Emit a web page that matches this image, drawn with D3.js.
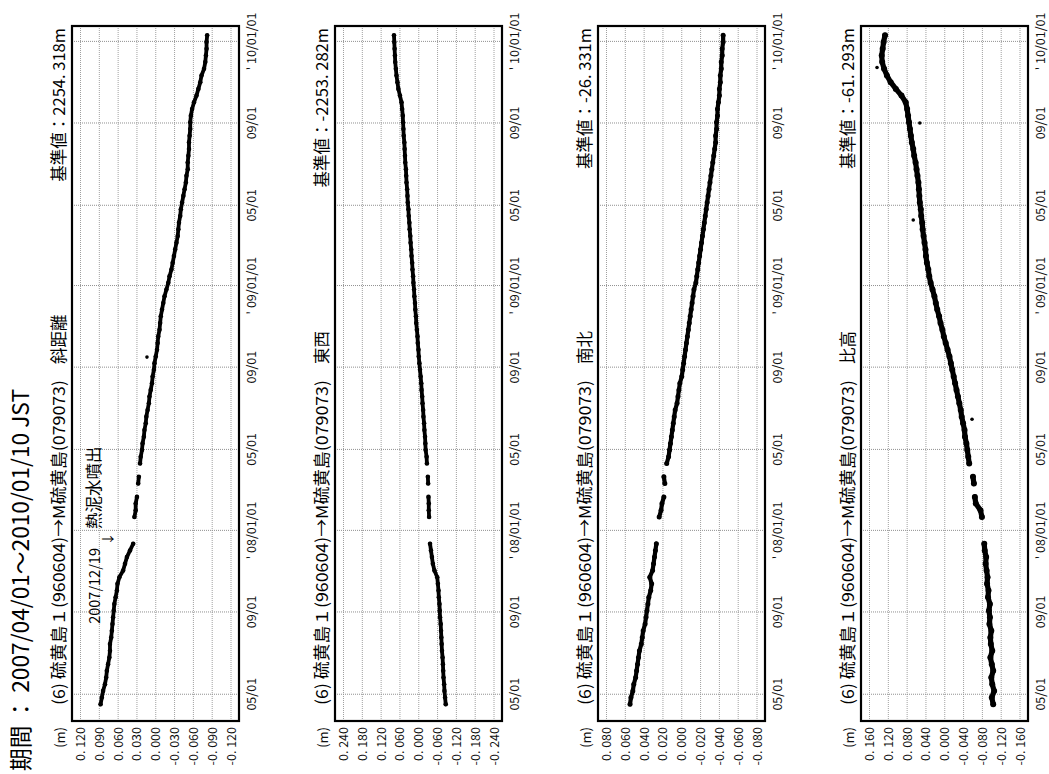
<!DOCTYPE html>
<html><head><meta charset="utf-8">
<script src="https://cdn.jsdelivr.net/npm/d3@7"></script>
<style>body{margin:0;background:#fff}svg{display:block}</style>
</head><body>
<script>
// ---- data ----
const dates = ["2007-04-16","2007-04-26","2007-05-06","2007-05-16","2007-05-26","2007-06-05","2007-06-15","2007-06-25","2007-07-05","2007-07-15",
"2007-07-25","2007-08-04","2007-08-14","2007-08-24","2007-09-03","2007-09-13","2007-09-23","2007-10-03","2007-10-13","2007-10-23",
"2007-11-02","2007-11-12","2007-11-22","2007-12-02","2007-12-12","2007-12-22","2008-01-01","2008-01-11","2008-01-21","2008-01-31",
"2008-02-10","2008-02-20","2008-03-01","2008-03-11","2008-03-21","2008-03-31","2008-04-10","2008-04-20","2008-04-30","2008-05-10",
"2008-05-20","2008-05-30","2008-06-09","2008-06-19","2008-06-29","2008-07-09","2008-07-19","2008-07-29","2008-08-08","2008-08-18",
"2008-08-28","2008-09-07","2008-09-17","2008-09-27","2008-10-07","2008-10-17","2008-10-27","2008-11-06","2008-11-16","2008-11-26",
"2008-12-06","2008-12-16","2008-12-26","2009-01-05","2009-01-15","2009-01-25","2009-02-04","2009-02-14","2009-02-24","2009-03-06",
"2009-03-16","2009-03-26","2009-04-05","2009-04-15","2009-04-25","2009-05-05","2009-05-15","2009-05-25","2009-06-04","2009-06-14",
"2009-06-24","2009-07-04","2009-07-14","2009-07-24","2009-08-03","2009-08-13","2009-08-23","2009-09-02","2009-09-12","2009-09-22",
"2009-10-02","2009-10-12","2009-10-22","2009-11-01","2009-11-11","2009-11-21","2009-12-01","2009-12-11","2009-12-21","2009-12-31",
"2010-01-10"];
const slopeDistance = [0.088,0.086,0.084,0.081,0.079,0.078,0.076,0.074,0.073,0.073,
0.071,0.070,0.069,0.068,0.067,0.066,0.064,0.062,0.061,0.058,
0.052,0.049,0.046,0.041,0.036,null,null,null,0.034,0.032,
0.032,0.030,null,0.028,0.027,null,0.025,0.024,0.022,0.021,
0.019,0.018,0.016,0.015,0.013,0.011,0.010,0.008,0.006,0.005,
0.003,0.002,0.000,-0.002,-0.003,-0.004,-0.006,-0.007,-0.008,-0.010,
-0.012,-0.014,-0.017,-0.020,-0.022,-0.025,-0.027,-0.029,-0.031,-0.033,
-0.035,-0.036,-0.037,-0.039,-0.040,-0.042,-0.044,-0.046,-0.048,-0.049,
-0.051,-0.051,-0.052,-0.053,-0.053,-0.054,-0.055,-0.055,-0.056,-0.058,
-0.061,-0.065,-0.068,-0.071,-0.073,-0.077,-0.079,-0.080,-0.081,-0.081,
-0.082];
const eastWest = [-0.086,-0.084,-0.082,-0.081,-0.079,-0.078,-0.077,-0.076,-0.074,-0.073,
-0.072,-0.071,-0.070,-0.068,-0.067,-0.066,-0.064,-0.063,-0.061,-0.059,
-0.050,-0.045,-0.042,-0.039,-0.036,null,null,null,-0.033,-0.032,
-0.032,-0.031,null,-0.030,-0.029,null,-0.026,-0.025,-0.022,-0.021,
-0.020,-0.018,-0.017,-0.015,-0.014,-0.012,-0.011,-0.009,-0.008,-0.006,
-0.004,-0.002,0.000,0.001,0.003,0.004,0.006,0.008,0.009,0.011,
0.012,0.014,0.015,0.017,0.018,0.020,0.021,0.023,0.024,0.026,
0.027,0.029,0.030,0.032,0.033,0.035,0.036,0.037,0.039,0.040,
0.041,0.043,0.044,0.045,0.046,0.048,0.049,0.050,0.051,0.053,
0.055,0.060,0.065,0.068,0.071,0.073,0.075,0.076,0.077,0.078,
0.079];
const northSouth = [0.055,0.054,0.052,0.051,0.049,0.048,0.047,0.046,0.045,0.043,
0.042,0.041,0.039,0.038,0.037,0.036,0.035,0.033,0.032,0.034,
0.031,0.030,0.029,0.028,0.027,null,null,null,0.024,0.022,
0.021,0.019,null,0.018,0.019,null,0.016,0.014,0.013,0.012,
0.011,0.010,0.009,0.008,0.007,0.005,0.004,0.003,0.002,0.000,
-0.001,-0.002,-0.003,-0.004,-0.005,-0.006,-0.007,-0.008,-0.009,-0.010,
-0.011,-0.012,-0.013,-0.015,-0.016,-0.017,-0.018,-0.019,-0.020,-0.021,
-0.022,-0.023,-0.024,-0.025,-0.026,-0.027,-0.028,-0.029,-0.030,-0.031,
-0.032,-0.033,-0.034,-0.035,-0.036,-0.036,-0.037,-0.037,-0.038,-0.038,
-0.039,-0.040,-0.040,-0.041,-0.041,-0.042,-0.042,-0.043,-0.043,-0.044,
-0.044];
const relHeight = [-0.103,-0.100,-0.105,-0.101,-0.099,-0.103,-0.100,-0.097,-0.101,-0.098,
-0.097,-0.099,-0.095,-0.096,-0.094,-0.096,-0.092,-0.093,-0.090,-0.091,
-0.089,-0.087,-0.088,-0.085,-0.084,null,null,null,-0.079,-0.076,
-0.066,-0.064,null,-0.062,-0.060,null,-0.052,-0.050,-0.048,-0.046,
-0.043,-0.042,-0.039,-0.036,-0.034,-0.031,-0.028,-0.025,-0.022,-0.019,
-0.016,-0.013,-0.010,-0.006,-0.002,0.002,0.005,0.009,0.012,0.016,
0.019,0.022,0.026,0.030,0.033,0.035,0.038,0.040,0.041,0.043,
0.045,0.047,0.048,0.050,0.051,0.053,0.054,0.055,0.056,0.058,
0.060,0.062,0.065,0.067,0.070,0.072,0.074,0.076,0.078,0.080,
0.083,0.092,0.104,0.115,0.123,0.129,0.133,0.134,0.132,0.130,
0.127];
// isolated stray points
const strayDates = [["2008-09-16"], [], [], ["2008-06-15","2009-04-09","2009-09-01","2009-11-23"]];
const strayValues = [[0.014], [], [], [-0.058,0.067,0.053,0.144]];

const componentNames = ["斜距離","東西","南北","比高"];
const baseValues = ["基準値：2254. 318m","基準値：-2253. 282m","基準値：-26. 331m","基準値：-61. 293m"];
const ticks1 = [0.120,0.090,0.060,0.030,0.000,-0.030,-0.060,-0.090,-0.120];
const ticks2 = [0.240,0.180,0.120,0.060,0.000,-0.060,-0.120,-0.180,-0.240];
const ticks3 = [0.080,0.060,0.040,0.020,0.000,-0.020,-0.040,-0.060,-0.080];
const ticks4 = [0.160,0.120,0.080,0.040,0.000,-0.040,-0.080,-0.120,-0.160];
const timeTicks = ["2007-05-01","2007-09-01","2008-01-01","2008-05-01","2008-09-01","2009-01-01","2009-05-01","2009-09-01","2010-01-01"];
const timeTickLabels = ["05/01","09/01","' 08/01/01","05/01","09/01","' 09/01/01","05/01","09/01","' 10/01/01"];
const titleText = "期間 ： 2007/04/01～2010/01/10  JST";
const lineText = "(6)  硫黄島１(960604)→M硫黄島(079073)";

// ---- drawing (unrotated frame: u across 774, v down 1049; then rotated -90°) ----
const W = 1049, H = 774;
const FONT = "'Noto Sans CJK JP','Noto Sans',sans-serif";
const parse = d3.utcParse("%Y-%m-%d");
const svg = d3.select("body").append("svg").attr("width", W).attr("height", H);
svg.append("rect").attr("width", W).attr("height", H).attr("fill", "#fff");
const g = svg.append("g").attr("transform", `translate(0,${H}) rotate(-90)`);

const u0 = 53, u1 = 748;
const t = d3.scaleUtc().domain([parse("2007-03-22"), parse("2010-01-24")]).range([u0, u1]);

g.append("text").attr("x", 3).attr("y", 29).attr("font-family", FONT).attr("font-size", 23)
  .attr("fill", "#000").attr("textLength", 382).attr("lengthAdjust", "spacingAndGlyphs").text(titleText);

const series = [slopeDistance, eastWest, northSouth, relHeight];
const tickSets = [ticks1, ticks2, ticks3, ticks4];
const bandWidth = [3.8, 3.8, 4.2, 5.2];
const tops = [72, 335, 598, 861];
const ph = 167;

series.forEach((vals, i) => {
  const top = tops[i];
  const ticks = tickSets[i];
  const y = d3.scaleLinear().domain([ticks[0], ticks[ticks.length - 1]]).range([top + 8.5, top + 159]);
  const p = g.append("g");
  // grid
  p.selectAll(".hg").data(ticks).join("line")
    .attr("x1", u0).attr("x2", u1).attr("y1", d => y(d)).attr("y2", d => y(d))
    .attr("stroke", "#a0a0a0").attr("stroke-width", 1).attr("stroke-dasharray", "1,1");
  p.selectAll(".vg").data(timeTicks).join("line")
    .attr("x1", d => t(parse(d))).attr("x2", d => t(parse(d))).attr("y1", top).attr("y2", top + ph)
    .attr("stroke", "#909090").attr("stroke-width", 1).attr("stroke-dasharray", "1,1");
  // value labels
  p.selectAll(".yl").data(ticks).join("text")
    .attr("x", 47).attr("y", d => y(d)).attr("dy", "0.36em").attr("text-anchor", "end")
    .attr("font-family", FONT).attr("font-size", 12.5).attr("fill", "#111")
    .text(d => d3.format(".3f")(d).replace("−", "-").replace(".", ". "));
  p.append("text").attr("x", 47).attr("y", top - 7).attr("text-anchor", "end")
    .attr("font-family", FONT).attr("font-size", 13).attr("fill", "#111").text("(m)");
  // time labels
  p.selectAll(".xl").data(timeTicks).join("text")
    .attr("x", d => t(parse(d))).attr("y", top + ph + 17).attr("text-anchor", "middle")
    .attr("font-family", FONT).attr("font-size", 12.5).attr("fill", "#111")
    .text((d, j) => timeTickLabels[j]);
  // header
  p.append("text").attr("x", 69).attr("y", top - 7).attr("font-family", FONT).attr("font-size", 16.5)
    .attr("fill", "#000").attr("textLength", 325).attr("lengthAdjust", "spacingAndGlyphs").text(lineText);
  p.append("text").attr("x", 410).attr("y", top - 7).attr("font-family", FONT).attr("font-size", 16.5)
    .attr("fill", "#000").text(componentNames[i]);
  p.append("text").attr("x", 746).attr("y", top - 7).attr("text-anchor", "end").attr("font-family", FONT)
    .attr("font-size", 16.5).attr("fill", "#000").text(baseValues[i]);
  // data
  const pts = dates.map((d, j) => ({ d: parse(d), v: vals[j] }));
  const line = d3.line().defined(d => d.v !== null).x(d => t(d.d)).y(d => y(d.v));
  p.append("path").attr("d", line(pts)).attr("fill", "none").attr("stroke", "#000")
    .attr("stroke-width", bandWidth[i]).attr("stroke-linejoin", "round").attr("stroke-linecap", "round");
  p.selectAll(".pt").data(pts.filter(d => d.v !== null)).join("circle")
    .attr("cx", d => t(d.d)).attr("cy", d => y(d.v)).attr("r", bandWidth[i] / 2 + 0.4).attr("fill", "#000");
  p.selectAll(".st").data(strayDates[i].map((d, j) => ({ d: parse(d), v: strayValues[i][j] }))).join("circle")
    .attr("cx", d => t(d.d)).attr("cy", d => y(d.v)).attr("r", 1.8).attr("fill", "#000");
  // frame
  p.append("rect").attr("x", u0).attr("y", top).attr("width", u1 - u0).attr("height", ph)
    .attr("fill", "none").attr("stroke", "#000").attr("stroke-width", 2.2);
  if (i === 0) {
    const ue = t(parse("2007-12-19"));
    p.append("text").attr("x", ue - 9).attr("y", top + 28).attr("text-anchor", "end")
      .attr("font-family", FONT).attr("font-size", 14.5).attr("fill", "#000").text("2007/12/19");
    p.append("text").attr("x", ue).attr("y", top + 40).attr("text-anchor", "middle")
      .attr("font-family", FONT).attr("font-size", 13).attr("fill", "#000").text("↓");
    p.append("text").attr("x", ue + 10).attr("y", top + 28)
      .attr("font-family", FONT).attr("font-size", 16.5).attr("fill", "#000").text("熱泥水噴出");
  }
});
</script>
</body></html>
